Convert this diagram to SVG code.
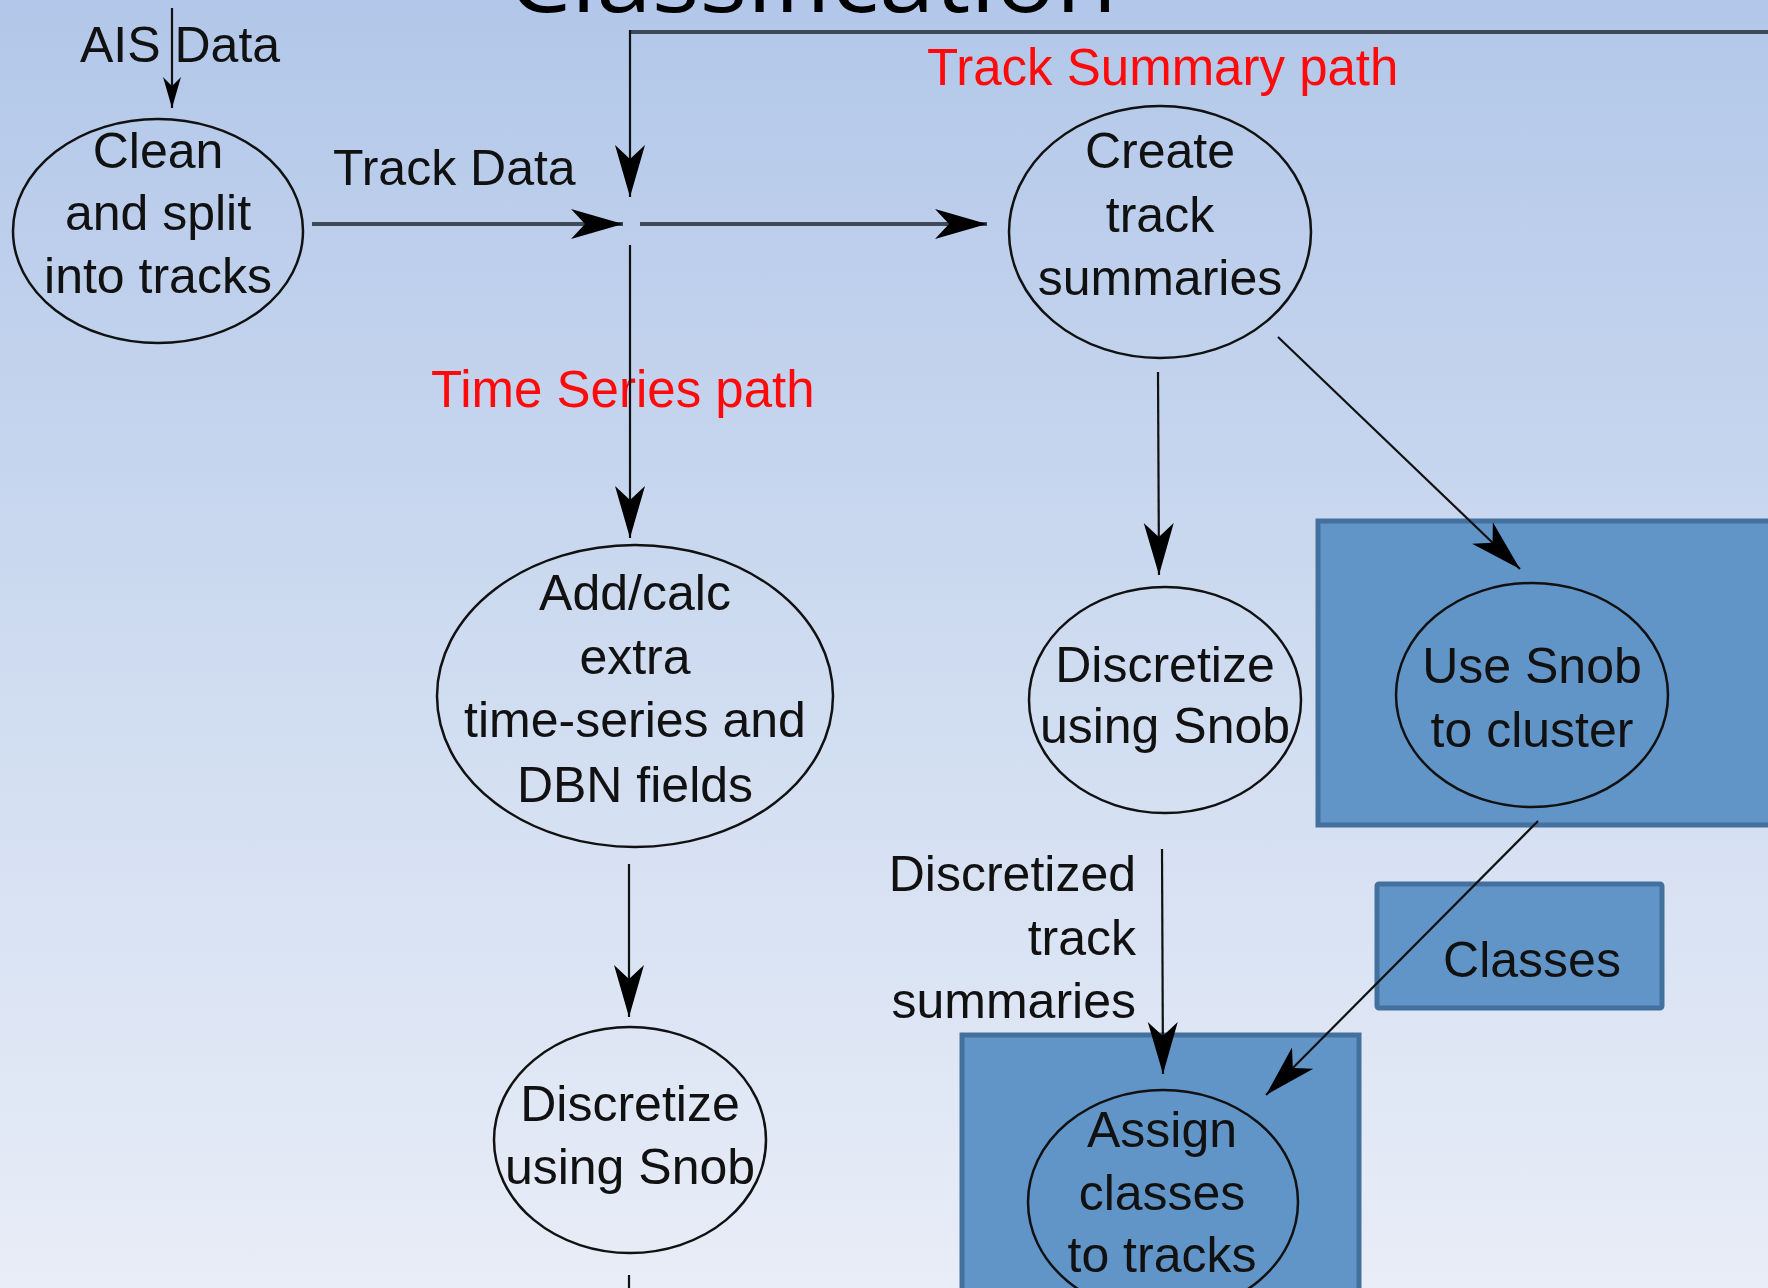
<svg xmlns="http://www.w3.org/2000/svg" width="1768" height="1288" viewBox="0 0 1768 1288">
  <defs>
    <linearGradient id="bg" x1="0" y1="0" x2="0" y2="1">
      <stop offset="0" stop-color="#b2c7e9"/>
      <stop offset="0.5" stop-color="#cedbf0"/>
      <stop offset="1" stop-color="#e8edf7"/>
    </linearGradient>
    <marker id="head" markerUnits="userSpaceOnUse" viewBox="-56 -18 60 36" markerWidth="60" markerHeight="36" refX="0" refY="0" orient="auto">
      <path d="M0,0 L-52,-15 L-38,0 L-52,15 Z" fill="#000"/>
    </marker>
    <marker id="headSmall" markerUnits="userSpaceOnUse" viewBox="-34 -10 36 20" markerWidth="36" markerHeight="20" refX="0" refY="0" orient="auto">
      <path d="M0,0 L-31,-9 L-22,0 L-31,9 Z" fill="#000"/>
    </marker>
    <style>
      .lbl { font-family: "Liberation Sans", Arial, sans-serif; fill: #111; }
      .node { font-size: 50px; text-anchor: middle; }
      .red { font-family: "Liberation Sans", Arial, sans-serif; fill: #ff0a0a; font-size: 51px; }
      .ell { fill: none; stroke: #111; stroke-width: 2.5; }
      .box { fill: #6195c8; stroke: #44709d; stroke-width: 5; }
      .thin { fill: none; stroke: #111; stroke-width: 2.2; }
      .thick { fill: none; stroke: #3f4959; stroke-width: 4; }
    </style>
  </defs>

  <rect x="0" y="0" width="1768" height="1288" fill="url(#bg)"/>

  <!-- slide heading, mostly above the visible area -->
  <text x="508" y="12" font-family="Open Sans, Liberation Sans, sans-serif" font-size="92" fill="#000" textLength="609" lengthAdjust="spacingAndGlyphs">Classification</text>

  <!-- shaded process containers -->
  <g id="box-cluster">
    <rect class="box" x="1318" y="521" width="470" height="304"/>
  </g>
  <g id="box-classes">
    <rect class="box" x="1377" y="884" width="285" height="124" rx="2"/>
    <text class="lbl node" x="1532" y="977">Classes</text>
  </g>
  <g id="box-assign">
    <rect class="box" x="962" y="1035" width="397" height="280"/>
  </g>

  <!-- path labels -->
  <text class="red" x="927" y="85">Track Summary path</text>
  <text class="red" x="431" y="407">Time Series path</text>

  <!-- processes -->
  <g id="clean">
    <ellipse class="ell" cx="158" cy="231" rx="145" ry="112"/>
    <text class="lbl node" x="158" y="168" font-size="48">Clean</text>
    <text class="lbl node" x="158" y="230" font-size="48">and split</text>
    <text class="lbl node" x="158" y="293" font-size="48">into tracks</text>
  </g>
  <g id="create-summaries">
    <ellipse class="ell" cx="1160" cy="232" rx="151" ry="126"/>
    <text class="lbl node" x="1160" y="168">Create</text>
    <text class="lbl node" x="1160" y="232">track</text>
    <text class="lbl node" x="1160" y="295">summaries</text>
  </g>
  <g id="add-fields">
    <ellipse class="ell" cx="635" cy="696" rx="198" ry="151"/>
    <text class="lbl node" x="635" y="610">Add/calc</text>
    <text class="lbl node" x="635" y="674">extra</text>
    <text class="lbl node" x="635" y="737">time-series and</text>
    <text class="lbl node" x="635" y="802">DBN fields</text>
  </g>
  <g id="discretize-series">
    <ellipse class="ell" cx="630" cy="1140" rx="136" ry="113"/>
    <text class="lbl node" x="630" y="1121" font-size="48">Discretize</text>
    <text class="lbl node" x="630" y="1184" font-size="48">using Snob</text>
  </g>
  <g id="discretize-summaries">
    <ellipse class="ell" cx="1165" cy="700" rx="136" ry="113"/>
    <text class="lbl node" x="1165" y="682" font-size="48">Discretize</text>
    <text class="lbl node" x="1165" y="743" font-size="48">using Snob</text>
  </g>
  <g id="cluster">
    <ellipse class="ell" cx="1532" cy="695" rx="136" ry="112"/>
    <text class="lbl node" x="1532" y="683">Use Snob</text>
    <text class="lbl node" x="1532" y="747">to cluster</text>
  </g>
  <g id="assign">
    <ellipse class="ell" cx="1163" cy="1202" rx="135" ry="112"/>
    <text class="lbl node" x="1162" y="1147">Assign</text>
    <text class="lbl node" x="1162" y="1210">classes</text>
    <text class="lbl node" x="1162" y="1272">to tracks</text>
  </g>

  <!-- edge labels -->
  <text class="lbl" x="80" y="62" font-size="50">AIS Data</text>
  <text class="lbl" x="333" y="185" font-size="50">Track Data</text>
  <g class="lbl" font-size="50" text-anchor="end">
    <text x="1136" y="891">Discretized</text>
    <text x="1136" y="955">track</text>
    <text x="1136" y="1018">summaries</text>
  </g>

  <!-- connectors -->
  <g id="connectors">
    <line class="thin" x1="172" y1="8" x2="172" y2="108" marker-end="url(#headSmall)"/>
    <line class="thick" x1="312" y1="224" x2="623" y2="224" marker-end="url(#head)"/>
    <line class="thick" x1="1770" y1="32" x2="629" y2="32"/>
    <line class="thin" x1="630" y1="30" x2="630" y2="197" marker-end="url(#head)"/>
    <line class="thick" x1="640" y1="224" x2="987" y2="224" marker-end="url(#head)"/>
    <line class="thin" x1="630" y1="245" x2="630" y2="538" marker-end="url(#head)"/>
    <line class="thin" x1="629" y1="864" x2="629" y2="1017" marker-end="url(#head)"/>
    <line class="thin" x1="629" y1="1275" x2="629" y2="1290"/>
    <line class="thin" x1="1158" y1="372" x2="1159" y2="575" marker-end="url(#head)"/>
    <line class="thin" x1="1278" y1="337" x2="1520" y2="569" marker-end="url(#head)"/>
    <line class="thin" x1="1162" y1="849" x2="1163" y2="1074" marker-end="url(#head)"/>
    <line class="thin" x1="1538" y1="821" x2="1266" y2="1095" marker-end="url(#head)"/>
  </g>
</svg>
